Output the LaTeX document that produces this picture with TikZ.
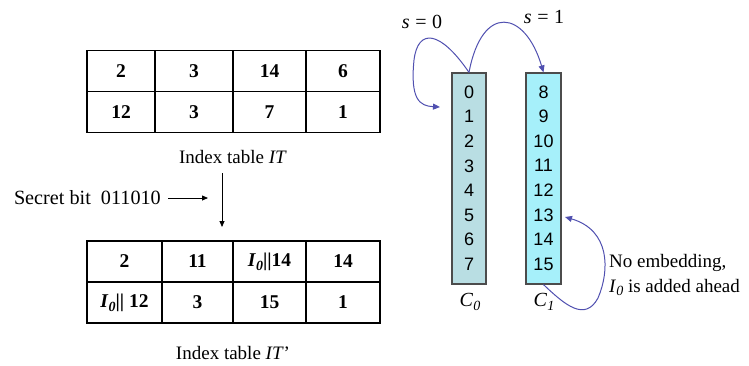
\documentclass[tikz,border=0pt]{standalone}
\usepackage{fontspec}
\setmainfont{Liberation Serif}
\newfontfamily\numfont{Liberation Sans}
\usetikzlibrary{arrows.meta,positioning,calc}
\definecolor{lineblue}{HTML}{5050B0}
\definecolor{colgray}{HTML}{B9DEE3}
\definecolor{colcyan}{HTML}{A6F0FA}
\newcommand{\lowsub}[1]{\raisebox{-0.45ex}{\fontsize{14}{14}\selectfont\textit{#1}}}
\newcommand{\izero}{\textit{I}\lowsub{0}}

\begin{document}
\begin{tikzpicture}[
  x=1pt, y=-1pt,
  cell/.style={rectangle, draw, line width=1.1pt, minimum height=41, inner sep=0pt,
               font=\fontsize{19.5}{19.5}\selectfont\bfseries},
  caption/.style={font=\fontsize{19}{19}\selectfont, inner sep=1pt},
  col/.style={rectangle, draw=black!70, line width=1.2pt, minimum height=211, inner sep=0pt},
  num/.style={font=\numfont\fontsize{18}{18}\selectfont, inner sep=0pt},
  arr/.style={-{Triangle[length=6pt,width=5pt]}, line width=0.8pt},
  curve/.style={-{Triangle[length=7pt,width=6pt]}, lineblue, line width=1pt}
]
  \useasboundingbox (0,0) rectangle (749,365);

  % index table IT
  \foreach \c/\x/\w/\a/\b in {1/121/68/2/12, 2/194/78/3/3, 3/269.5/73/14/7, 4/343/74/6/1} {
    \node[cell, minimum width=\w] (ta\c) at (\x,71) {\a};
    \node[cell, minimum width=\w] (tb\c) at (\x,112) {\b};
  }
  \node[caption] (cap1) at (233,157) {Index table \textit{IT}};

  % secret bits
  \node[caption, anchor=east, font=\fontsize{20.2}{20.2}\selectfont] (secret) at (162,198) {Secret bit\ \ 011010};
  \coordinate (secend) at (208,198);
  \draw[arr] ([xshift=6]secret.east) -- (secend);
  \coordinate (vtop) at (222,173);
  \coordinate (vbot) at (222,227);
  \draw[arr] (vtop) -- (vbot);

  % index table IT'
  \foreach \c/\x/\w/\a/\b in {1/124.5/75/2/{\izero|| 12}, 2/197.5/71/11/3,
                              3/269.5/73/{\izero||14}/15, 4/343/74/14/1} {
    \node[cell, minimum width=\w] (ua\c) at (\x,261.5) {\a};
    \node[cell, minimum width=\w] (ub\c) at (\x,302.5) {\b};
  }
  \node[caption] (cap2) at (233,353) {Index table \textit{IT}’};

  % columns C0 and C1
  \node[col, fill=colgray, minimum width=34] (c0) at (469,178.5) {};
  \node[col, fill=colcyan, minimum width=35] (c1) at (543.5,178.5) {};
  \foreach \i in {0,...,7} {
    \pgfmathtruncatemacro{\j}{\i+8}
    \node[num] (n\i) at (469,92+24.6*\i) {\i};
    \node[num] (n\j) at (543.5,92+24.6*\i) {\j};
  }
  \node[caption, font=\fontsize{20}{20}\selectfont] (lc0) at (470,302) {\textit{C}\lowsub{0}};
  \node[caption, font=\fontsize{20}{20}\selectfont] (lc1) at (544,302) {\textit{C}\lowsub{1}};

  % selection arrows
  \node[caption, font=\fontsize{20}{20}\selectfont] (s0) at (422,22) {\textit{s}\;=\;0};
  \node[caption, font=\fontsize{20}{20}\selectfont] (s1) at (544,17) {\textit{s}\;=\;1};
  \coordinate (in0) at (440,107);
  \coordinate (in1) at (565,217);
  \draw[curve] (c0.north) .. controls (440,30) and (418,28) .. (414,60)
                          .. controls (410,100) and (420,106) .. (in0);
  \draw[curve] (c0.north) .. controls (482,3) and (525,10) .. (c1.north);
  \draw[curve] (c1.south) .. controls (565,305) and (585,322) .. (598,298)
                          .. controls (610,270) and (610,230) .. (in1);
  \node[caption, anchor=west, align=left, font=\fontsize{19}{25}\selectfont]
    (note) at (608,275) {No embedding,\\ \izero\ is added ahead};
\end{tikzpicture}
\end{document}
